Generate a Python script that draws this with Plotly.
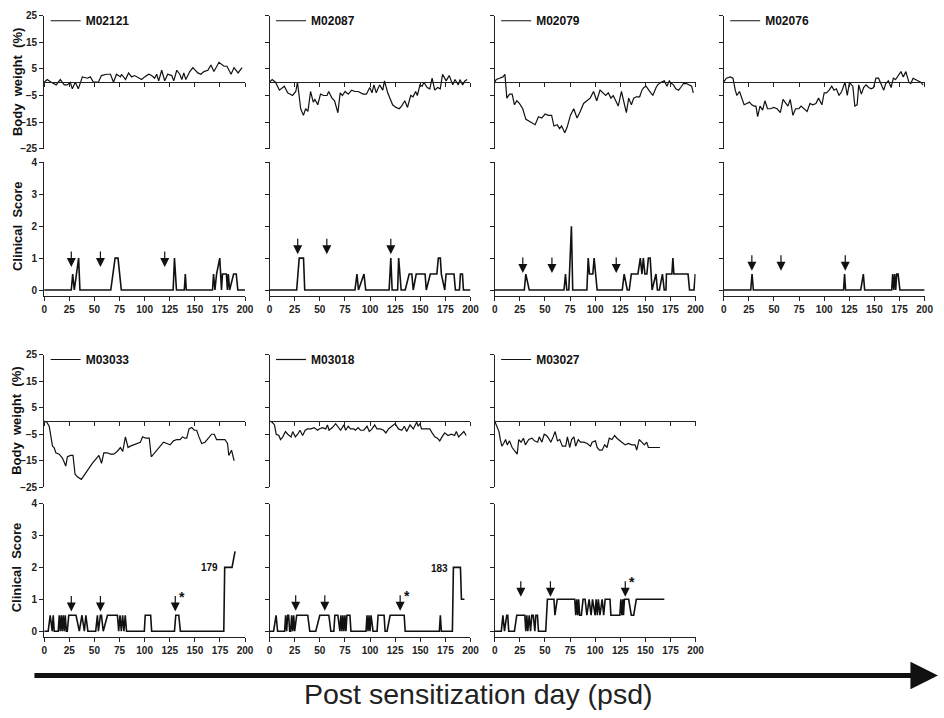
import plotly.graph_objects as go

W, H = 944, 718

animals = ["M02121", "M02087", "M02079", "M02076", "M03033", "M03018", "M03027"]

# ---------------- Body weight (% change) ----------------
bw_day_M02121 = [0, 3, 7, 12, 16, 20, 23, 26, 28, 31, 34, 38, 43, 46, 49, 54, 57, 62, 66, 69, 72, 76, 77, 81, 84, 87, 90, 94, 97, 100, 104, 107, 110, 112, 114, 117, 120, 123, 127, 129, 132, 135, 137, 139, 141, 145, 148, 153, 156, 159, 163, 166, 169, 174, 179, 182, 186, 189, 193, 197]
bw_val_M02121 = [0, 1, 0, -1, 1, -1, -1, 0, -2.5, 0, -2.5, 2, 1.5, 2, 0, 0, 2.5, 3, 3, 0, 3, 2, 3, 1, 3.5, 2, 2.5, 1.5, 1, 2, 3, 2.5, 1.5, 3, 0.5, 4.5, 0.5, 3, 2.5, 0.5, 4.5, 3, 1, 3.5, 1, 4, 5.5, 3.5, 3, 4, 4.5, 6.5, 4, 7.5, 6, 6, 3, 5.5, 3.5, 5.5]

bw_day_M02087 = [0, 2.6, 5.9, 9.8, 14.7, 18, 22.9, 26.1, 27.8, 31, 33.7, 35.9, 38.2, 40.8, 43.5, 45.1, 48, 50.7, 53.9, 57.2, 58.8, 62.1, 64.7, 68, 70.3, 72.5, 75.2, 78.4, 81.7, 85, 88.2, 91.5, 93.1, 96.4, 99.7, 102, 103.9, 106.2, 109.5, 112.7, 114.4, 117.6, 122.5, 125.8, 129.1, 131.4, 134.6, 137.3, 140.5, 142.8, 145.4, 147.1, 149.7, 152, 153.6, 156.9, 159.5, 161.8, 164.4, 167.3, 169.9, 172.2, 175.8, 178.8, 182.4, 184.6, 187.9, 189.5, 192.2, 194.4, 196.7]
bw_val_M02087 = [0, 1, 0, -3, -1.5, -4, -5, -3.5, 0, -10, -12.5, -10, -11, -3.5, -7.5, -6.5, -8.5, -4.5, -5, -5, -3.5, -6, -7, -11.5, -4, -5, -3.5, -4.5, -3, -3.5, -3.5, -4, -4.5, -4.5, -2, -4, -1, -4, -1, -3, 0.5, -4, -8.5, -9.5, -10, -9, -7, -9.5, -5, -5.5, -3.5, -5, -1, -1.5, 0, -2, -2.5, 1.5, -3, -2, -2.5, 3, 0.5, 2.5, -1, 1, -1, 1, -1, 0.5, 1]

bw_day_M02079 = [0, 1.6, 4.9, 8.2, 10.2, 12.1, 14.8, 17.4, 19.7, 22, 24.6, 27.9, 31.1, 33.4, 36.1, 40.3, 43.6, 46.9, 50.2, 53.4, 56.7, 59, 62.3, 64.6, 66.6, 69.8, 72.1, 75.4, 78.7, 82, 85.2, 88.5, 91.8, 95.1, 98.4, 101.6, 104.9, 108.2, 110.5, 113.1, 115.7, 118, 120.7, 123, 126.2, 128.9, 131.1, 133.4, 136.1, 138.4, 141, 144.3, 146.6, 148.5, 150.8, 153.4, 157.4, 160.7, 162.3, 165.6, 168.9, 171.5, 173.8, 176.1, 178, 180.3, 183, 185.2, 187.9, 190.8, 193.4, 196.1, 197.7]
bw_val_M02079 = [0, 1, 1.5, 2, 3, -6, -4.5, -4.5, -8.5, -7, -8, -10, -14, -14.5, -15, -16, -13, -13.5, -12, -12.5, -12.5, -16.5, -16, -17.5, -16.5, -19, -17, -12.5, -10, -13.5, -11, -8, -7, -6, -3.5, -7, -3, -4, -5, -4, -6, -5, -7, -9, -3.5, -8.5, -11.5, -6, -8.5, -6, -5.5, -5.5, -3, -2, -1.5, -3, -5, -2, -1, 0, 0.5, -1.5, 0.5, -0.5, -1, -2.5, -3, -2, -0.5, -0.5, -1, -1.5, -4]

bw_day_M02076 = [0, 2.6, 6.6, 9.2, 11.5, 13.1, 15.7, 18, 20.3, 23, 25.6, 27.9, 30.2, 32.1, 33.8, 36.1, 38.7, 41, 43.6, 46.6, 49.8, 53.1, 56.4, 59, 61.6, 63.9, 66.2, 68.9, 71.5, 74.8, 77, 80.3, 83, 85.9, 88.5, 91.8, 94.4, 97.7, 100, 102.3, 104.9, 107.5, 109.8, 112.1, 114.8, 117.4, 120.7, 123, 125.2, 127.2, 128.5, 130.5, 132.8, 134.4, 137, 139.3, 141.6, 144.3, 146.9, 149.2, 151.5, 154.1, 156.7, 159.3, 161.3, 163.9, 166.6, 168.9, 171.1, 173.8, 176.4, 178.7, 181.3, 184.3, 186.2, 188.5, 190.8, 193.4, 196.1, 198.4]
bw_val_M02076 = [0, 1.5, 2, 1.5, -3, -5, -3.5, -6, -8.5, -8, -7.5, -8.5, -9, -9, -13, -9, -10.5, -7, -10, -10, -9.5, -10, -11.5, -6.5, -8, -9, -6.5, -12.5, -10, -10, -9, -10, -11, -8, -8.5, -8, -6, -8.5, -4, -4, -3, -1.5, -3, -2.5, -5, -3.5, 0, -5, 0, -1, -1.5, -9, -8.5, -1, -4.5, -2, -1, -2, -2.5, -2, 1.5, 1.5, -1, -3, -0.5, 0.5, -2, 1.5, 1, 2.5, 4, 2, 4, 0, -0.5, 1.5, 1, 0.5, 0, -1]

bw_day_M03033 = [0, 2.6, 5, 6.6, 8.3, 9.9, 11.6, 14.9, 18.2, 21.5, 23.1, 26.4, 28.7, 30.7, 33, 37, 40.6, 43.9, 47.9, 51.2, 54.5, 57.1, 59.4, 62.7, 66, 69.3, 72.6, 75.9, 78.2, 80.9, 83.5, 85.8, 89.1, 92.4, 95.7, 98, 101.3, 104.6, 106.6, 108.9, 113.9, 118.8, 122.1, 125.4, 128.7, 132, 135.3, 137.6, 140.3, 141.9, 144.2, 146.9, 149.5, 151.8, 154.1, 156.8, 160.1, 163.4, 166.7, 169.3, 171.6, 176.6, 179.9, 182.5, 183.8, 186.5, 189.1]
bw_val_M03033 = [0, -0.5, -2, -6, -9.5, -10, -12, -12.5, -14, -17, -13.5, -13, -13, -20, -21, -22, -20, -18, -16, -14.5, -13, -16, -12, -12, -12.5, -12.5, -11.5, -10, -11.5, -6, -10, -9.5, -9, -8.5, -8, -6, -6.5, -6.5, -13.5, -12.5, -10, -8, -8.5, -9, -7.5, -7, -7, -6, -6.5, -6.5, -3, -2.5, -3.5, -3.5, -6, -8.5, -8, -6.5, -5, -5, -7, -7, -7, -8.5, -13, -11, -15]

bw_day_M03018 = [0, 2.6, 4.9, 6.6, 9.2, 10.9, 13.2, 15.8, 18.1, 21.4, 23, 25.7, 28, 30.3, 32.9, 35.5, 37.8, 41.1, 44.4, 47.7, 49.3, 52.6, 55.9, 57.6, 59.2, 62.5, 65.8, 68.4, 70.7, 74, 75.7, 78.3, 80.6, 83.9, 85.5, 88.2, 90.5, 93.8, 97, 99.3, 102, 104.6, 106.9, 110.2, 113.5, 115.8, 118.4, 121.7, 125, 128.3, 131.6, 134.2, 136.5, 139.8, 143.1, 146.4, 148, 149.7, 151.3, 154.6, 159.5, 161.8, 164.5, 167.1, 169.4, 171.7, 174.3, 177.6, 180.9, 184.2, 185.9, 188.2, 190.8, 193.4, 195.7]
bw_val_M03018 = [0, -0.5, -1.5, -5, -5.5, -7, -6, -4, -5, -6, -4, -6, -5, -3.5, -5.5, -3.5, -3, -3, -2.5, -3.5, -3, -2.5, -3, -1.5, -3.5, -2.5, -1, -2.5, -3.5, -1.5, -3.5, -2, -3, -3, -3.5, -2.5, -3.5, -3.5, -2, -4, -3, -1.5, -3, -3, -3.5, -4.5, -3, -2, -1, -3, -3.5, -2, -4, -1.5, -3, -0.5, -2, -1, -3, -3, -3, -4.5, -6, -6.5, -7.5, -6, -4.5, -5.5, -5, -5.5, -4, -6, -5, -4, -5.5]

bw_day_M03027 = [0, 2.3, 4.3, 5.6, 7.2, 8.9, 10.9, 12.5, 14.8, 17.4, 19.7, 22.4, 24, 26.3, 28.6, 30.6, 33.9, 37.2, 39.5, 42.8, 44.4, 47, 49.3, 51.6, 53.6, 55.9, 58.2, 60.2, 62.5, 64.8, 67.4, 70.7, 72.4, 74.7, 76.6, 78.9, 80.6, 83.2, 85.5, 88.8, 92.1, 95.4, 97, 100.3, 102, 104.3, 106.9, 109.5, 111.8, 114.1, 116.8, 119.4, 121.7, 124.3, 126.6, 129.9, 133.2, 136.5, 139.8, 141.4, 143.8, 146.4, 149, 151.3, 153, 156.3, 159.5, 164.5]
bw_val_M03027 = [0, -2, -4, -7, -9.5, -8.5, -7, -9, -7.5, -10, -11, -12.5, -7, -8, -6.5, -9, -7, -6.5, -7.5, -8, -6, -8, -5, -5.5, -6.5, -8, -6, -4, -7.5, -7, -9.5, -9.5, -6, -10, -7, -6, -9.5, -7, -8, -8, -8.5, -9.5, -8, -7.5, -10, -11, -11, -9, -10, -6.5, -7, -5.5, -6.5, -7.5, -8, -9, -8.5, -9, -9, -11, -7, -8, -9, -8, -10, -10, -10, -10]

# ---------------- Clinical score ----------------
cs_day_M02121 = [0, 27, 28.4, 30, 34.3, 35.6, 66.3, 68.6, 70.6, 73.5, 76.8, 128.4, 129.7, 131.7, 139.5, 140.5, 141.5, 167.6, 168.6, 170, 171.6, 174.8, 176.5, 177.5, 181.4, 182.4, 183.3, 184.6, 188.6, 191.2, 192.8, 200]
cs_val_M02121 = [0, 0, 0.5, 0, 1, 0, 0, 0.5, 1, 1, 0, 0, 1, 0, 0, 0.5, 0, 0, 0.5, 0, 0.5, 1, 0, 0.5, 0.5, 0, 0.5, 0, 0.5, 0.5, 0, 0]

cs_day_M02087 = [0, 27, 29.5, 33.8, 35, 85, 87, 88.5, 94, 95.7, 119, 120.7, 122, 127.5, 128.5, 131, 135, 139, 141.6, 143, 146, 154.8, 156, 160, 166.5, 168, 170, 171, 174.4, 175.7, 183.6, 185, 189, 190, 192, 193, 200]
cs_val_M02087 = [0, 0, 1, 1, 0, 0, 0.5, 0, 0.5, 0, 0, 1, 0, 0, 1, 0, 0, 0.5, 0.5, 0, 0.5, 0.5, 0, 0.5, 0.5, 1, 1, 0.5, 0, 0.5, 0.5, 0, 0, 0.5, 0.5, 0, 0]

cs_day_M02079 = [0, 29.5, 31, 34.4, 69, 70.5, 71.8, 73.8, 76.4, 77.7, 91.8, 93.1, 94.4, 97.7, 99, 100.3, 102, 127, 128.9, 132, 134, 136, 142.6, 145, 146.6, 148, 149.5, 151.5, 153, 154.8, 156.7, 160.6, 162, 164, 167, 168.8, 170.5, 171, 176.4, 177.4, 178.4, 192.5, 194, 198.4, 199.7]
cs_val_M02079 = [0, 0, 0.5, 0, 0, 0.5, 0, 0, 2, 0, 0, 1, 0.5, 0.5, 1, 0.5, 0, 0, 0.5, 0, 0, 0.5, 0.5, 1, 0.5, 1, 0.5, 0.5, 1, 1, 0, 0.5, 0, 0, 0.5, 0, 0, 0.5, 0.5, 1, 0.5, 0.5, 0, 0, 0.5]

cs_day_M02076 = [0, 26.9, 28.2, 29.5, 119.3, 120.3, 121.3, 136.4, 139, 140.3, 167.2, 168.2, 169.2, 170.2, 171.2, 172.2, 173.6, 175.4, 200]
cs_val_M02076 = [0, 0, 0.5, 0, 0, 0.5, 0, 0, 0.5, 0, 0, 0.5, 0, 0.5, 0, 0.5, 0.5, 0, 0]

cs_day_M03033 = [0, 4, 6, 8, 9, 10, 14, 15, 16, 17, 18, 19, 20, 21, 22, 23, 24.5, 31.7, 35, 37.6, 40, 41.5, 43.5, 51.3, 53, 54, 56, 57, 58.8, 63, 72.9, 74.2, 75.5, 76.8, 78.1, 79.4, 80.7, 82, 99.7, 100.6, 106, 107, 129.7, 131, 134, 135.6, 178.8, 179.7, 187, 190]
cs_val_M03033 = [0, 0, 0.5, 0, 0.5, 0, 0, 0.5, 0, 0.5, 0, 0.5, 0, 0.5, 0, 0, 0.5, 0.5, 0, 0.5, 0, 0.5, 0, 0, 0.5, 0, 0.5, 0.5, 0, 0.5, 0.5, 0, 0.5, 0, 0.5, 0, 0.5, 0, 0, 0.5, 0.5, 0, 0, 0.5, 0.5, 0, 0, 2, 2, 2.5]

cs_day_M03018 = [0, 4, 6.5, 8, 15, 16, 17, 18, 19, 20, 21, 22, 23, 24, 25, 27, 38, 40, 46, 50, 59, 61, 64, 65, 68, 70, 71, 72, 73, 74, 75, 76, 77, 80, 81, 96, 97, 98, 99, 100, 101, 103, 107, 108, 114, 115, 117, 120, 134, 135, 169, 170, 171, 182, 183, 190, 191, 194]
cs_val_M03018 = [0, 0, 0.5, 0, 0, 0.5, 0, 0.5, 0.5, 0, 0, 0.5, 0, 0.5, 0, 0.5, 0.5, 0, 0, 0.5, 0.5, 0, 0, 0.5, 0.5, 0, 0.5, 0, 0.5, 0, 0.5, 0, 0.5, 0.5, 0, 0, 0.5, 0, 0.5, 0, 0.5, 0, 0, 0.5, 0.5, 0, 0, 0.5, 0.5, 0, 0, 0.5, 0, 0, 2, 2, 1, 1]

cs_day_M03027 = [0, 6.6, 8.2, 9.8, 12, 13, 14, 19.7, 22, 30, 31, 32, 33, 34.4, 35.7, 37, 38.4, 40, 41, 42.6, 43.6, 50.8, 52.5, 59, 60, 62.3, 79.7, 80.7, 81.7, 82.7, 83.6, 84.6, 86.3, 88, 90, 91.8, 94, 96, 97.4, 100, 101, 102.2, 103.2, 104.8, 107, 108.5, 110, 114.8, 115.7, 124.6, 125.6, 126.6, 127.6, 128.2, 129.2, 130.8, 133.4, 136, 138.4, 141, 168.9]
cs_val_M03027 = [0, 0, 0.5, 0, 0.5, 0.5, 0, 0, 0.5, 0.5, 0, 0.5, 0, 0.5, 0, 0.5, 0.5, 0, 0.5, 0.5, 0, 0, 1, 1, 0.5, 1, 1, 0.5, 1, 0.5, 1, 0.5, 0.5, 1, 1, 0.5, 1, 0.5, 1, 0.5, 1, 0.5, 1, 0.5, 1, 0.5, 1, 1, 0.5, 0.5, 1, 0.5, 1, 0.5, 1, 1, 1, 0.5, 0.5, 1, 1]

# sensitization / boost days (arrows) and their drawing heights
arrow_days = {
    "M02121": [27, 56, 120], "M02087": [28, 57, 120.7], "M02079": [28, 57, 121],
    "M02076": [28, 57, 121], "M03033": [27, 56, 130.5], "M03018": [26, 55, 130],
    "M03027": [26, 55.5, 130],
}
arrow_tip = {"M02121": 0.72, "M02087": 1.12, "M02079": 0.53, "M02076": 0.6,
             "M03033": 0.62, "M03018": 0.64, "M03027": 1.08}
star_animals = ["M03033", "M03018", "M03027"]
onset_labels = {"M03033": (175, 2.0, "179"), "M03018": (180, 1.95, "183")}

bw_data = {
    "M02121": (bw_day_M02121, bw_val_M02121), "M02087": (bw_day_M02087, bw_val_M02087),
    "M02079": (bw_day_M02079, bw_val_M02079), "M02076": (bw_day_M02076, bw_val_M02076),
    "M03033": (bw_day_M03033, bw_val_M03033), "M03018": (bw_day_M03018, bw_val_M03018),
    "M03027": (bw_day_M03027, bw_val_M03027),
}
cs_data = {
    "M02121": (cs_day_M02121, cs_val_M02121), "M02087": (cs_day_M02087, cs_val_M02087),
    "M02079": (cs_day_M02079, cs_val_M02079), "M02076": (cs_day_M02076, cs_val_M02076),
    "M03033": (cs_day_M03033, cs_val_M03033), "M03018": (cs_day_M03018, cs_val_M03018),
    "M03027": (cs_day_M03027, cs_val_M03027),
}

x_ticks = [0, 25, 50, 75, 100, 125, 150, 175, 200]
bw_ticks = [-25, -15, -5, 5, 15, 25]
cs_ticks = [0, 1, 2, 3, 4]

# ---------------- layout geometry (pixels) ----------------
col_left = [41.7, 270, 498, 730]
plot_w = 203.5
rows_px = [  # (bw_top, bw_bottom, cs_top, cs_bottom)
    (10, 145, 159, 295),
    (354.5, 489.5, 506, 642),
]

def fx(px):
    return px / W

def fy(py):
    return 1 - py / H

FONT = "Liberation Sans, Arial, sans-serif"
tickfont = dict(family=FONT, size=10, color="#222", weight="bold")
axcol = "#222"

fig = go.Figure()
layout = dict(
    width=W, height=H, margin=dict(l=0, r=0, t=0, b=0),
    paper_bgcolor="white", plot_bgcolor="white", showlegend=True,
)
annotations = []

for i, name in enumerate(animals):
    r, c = divmod(i, 4)
    bt, bb, ct, cb = rows_px[r]
    xd = [fx(col_left[c]), fx(col_left[c] + plot_w)]
    nb, nc = 2 * i + 1, 2 * i + 2
    sb = "" if nb == 1 else str(nb)
    sc = str(nc)
    legname = "legend" if i == 0 else f"legend{i + 1}"

    # body weight traces
    d, v = bw_data[name]
    fig.add_trace(go.Scatter(x=d, y=v, mode="lines", name=name,
                             line=dict(color="#111", width=1.2),
                             xaxis="x" + sb, yaxis="y" + sb,
                             legend=legname, showlegend=True))
    d, v = cs_data[name]
    fig.add_trace(go.Scatter(x=d, y=v, mode="lines", showlegend=False,
                             line=dict(color="#111", width=1.6),
                             xaxis="x" + sc, yaxis="y" + sc))

    bw_dom = [fy(bb), fy(bt)]
    cs_dom = [fy(cb), fy(ct)]
    layout["xaxis" + sb] = dict(
        domain=xd, range=[0, 200], anchor="free", position=(bw_dom[0] + bw_dom[1]) / 2,
        tickvals=x_ticks, showticklabels=False, ticks="outside", ticklen=4,
        tickcolor=axcol, showline=True, linecolor=axcol, linewidth=1,
        showgrid=False, zeroline=False)
    layout["yaxis" + sb] = dict(
        domain=bw_dom, range=[-25, 25], anchor="x" + sb, tickvals=bw_ticks,
        showticklabels=(c == 0), ticks="outside", ticklen=4, tickcolor=axcol,
        showline=True, linecolor=axcol, linewidth=1, showgrid=False,
        zeroline=False, tickfont=tickfont)
    layout["xaxis" + sc] = dict(
        domain=xd, range=[0, 200], anchor="y" + sc, tickvals=x_ticks,
        showticklabels=True, ticks="outside", ticklen=4, tickcolor=axcol,
        showline=True, linecolor=axcol, linewidth=1, showgrid=False,
        zeroline=False, tickfont=tickfont, ticklabelstandoff=0)
    layout["yaxis" + sc] = dict(
        domain=cs_dom, range=[-0.19, 4], anchor="x" + sc, tickvals=cs_ticks,
        showticklabels=(c == 0), ticks="outside", ticklen=4, tickcolor=axcol,
        showline=True, linecolor=axcol, linewidth=1, showgrid=False,
        zeroline=False, tickfont=tickfont)

    layout[legname] = dict(
        x=fx(col_left[c] + 1.5), y=fy(bt + 5), xanchor="left", yanchor="middle",
        bgcolor="rgba(0,0,0,0)", borderwidth=0,
        font=dict(family=FONT, size=12, color="#111", weight="bold"),
        tracegroupgap=0)

    # sensitization arrows
    for ad in arrow_days[name]:
        annotations.append(dict(
            x=ad, y=arrow_tip[name], xref="x" + sc, yref="y" + sc, text="",
            showarrow=True, ax=0, ay=-17, arrowhead=2, arrowsize=1.5,
            arrowwidth=1.2, arrowcolor="#111"))
    if name in star_animals:
        ad = arrow_days[name][-1]
        annotations.append(dict(
            x=ad + 2, y=arrow_tip[name] + 0.45, xref="x" + sc, yref="y" + sc,
            text="*", showarrow=False, xanchor="left", yanchor="middle",
            font=dict(family=FONT, size=14, color="#111", weight="bold")))
    if name in onset_labels:
        lx, ly, lt = onset_labels[name]
        annotations.append(dict(
            x=lx, y=ly, xref="x" + sc, yref="y" + sc, text=lt, showarrow=False,
            xanchor="right", yanchor="middle",
            font=dict(family=FONT, size=10, color="#111", weight="bold")))

# axis titles (left column)
for r in range(2):
    bt, bb, ct, cb = rows_px[r]
    annotations.append(dict(
        x=fx(14), y=fy((bt + bb) / 2), xref="paper", yref="paper",
        text="Body\u00a0 weight\u00a0 (%)", textangle=-90, showarrow=False,
        xanchor="center", yanchor="middle",
        font=dict(family=FONT, size=13, color="#111", weight="bold")))
    annotations.append(dict(
        x=fx(14), y=fy((ct + cb) / 2 - 3), xref="paper", yref="paper",
        text="Clinical\u00a0 Score", textangle=-90, showarrow=False,
        xanchor="center", yanchor="middle",
        font=dict(family=FONT, size=13, color="#111", weight="bold")))

# timeline arrow and caption
annotations.append(dict(
    x=fx(947), y=fy(681), xref="paper", yref="paper", text="", showarrow=True,
    ax=-905, ay=0, arrowhead=2, arrowsize=1.1, arrowwidth=5, arrowcolor="#111"))
annotations.append(dict(
    x=fx(482), y=fy(700), xref="paper", yref="paper",
    text="Post sensitization day (psd)", showarrow=False,
    xanchor="center", yanchor="middle",
    font=dict(family=FONT, size=28.5, color="#222")))

layout["annotations"] = annotations
fig.update_layout(**layout)
fig.write_html("out.html")
